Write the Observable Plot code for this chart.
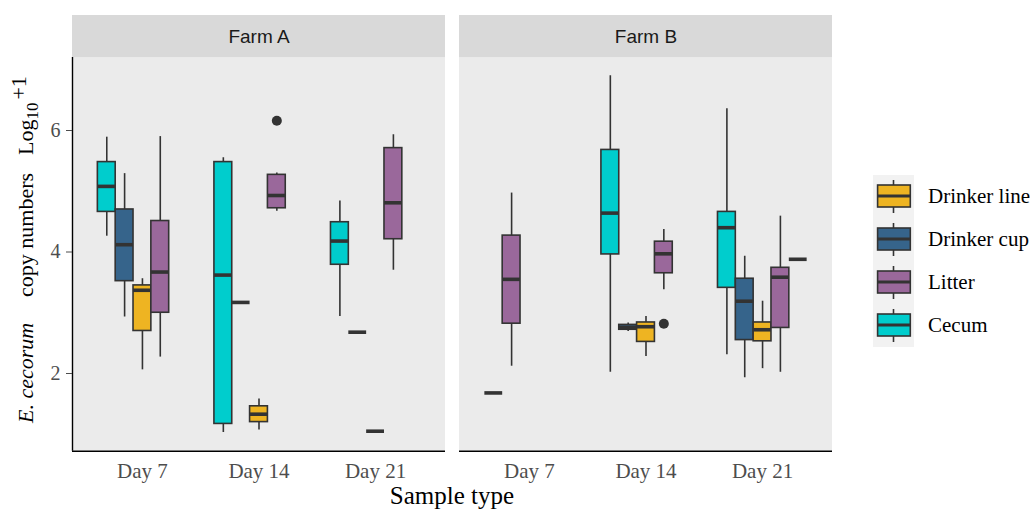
<!DOCTYPE html>
<html><head><meta charset="utf-8">
<script src="https://cdn.jsdelivr.net/npm/d3@7"></script>
<script src="https://cdn.jsdelivr.net/npm/@observablehq/plot@0.6"></script>
<style>
body{margin:0;background:#fff;}
#wrap{position:relative;width:1034px;height:512px;overflow:hidden;}
#wrap svg{position:absolute;left:0;top:0;}
#legend{position:absolute;left:873px;top:175px;font-family:'Liberation Serif','Times New Roman',serif;font-size:21px;color:#000;}
</style></head><body><div id="wrap"></div>
<script>
const farms = ["Farm A", "Farm B"];
const days = ["Day 7", "Day 14", "Day 21"];
const types = ["Drinker line", "Drinker cup", "Litter", "Cecum"];
const typeColors = ["#EEB422", "#36648B", "#9A689B", "#00CDCD"];

// [day, sample type, lower whisker, Q1, median, Q3, upper whisker] in dodge order
const farmABoxes = [
  ["Day 7", "Cecum", 4.26, 4.66, 5.08, 5.48, 5.89],
  ["Day 7", "Drinker cup", 2.93, 3.52, 4.12, 4.70, 5.29],
  ["Day 7", "Drinker line", 2.06, 2.70, 3.37, 3.45, 3.56],
  ["Day 7", "Litter", 2.27, 3.00, 3.67, 4.51, 5.90],
  ["Day 14", "Cecum", 1.03, 1.17, 3.62, 5.48, 5.55],
  ["Day 14", "Drinker cup", 3.17, 3.17, 3.17, 3.17, 3.17],
  ["Day 14", "Drinker line", 1.07, 1.20, 1.33, 1.46, 1.58],
  ["Day 14", "Litter", 4.67, 4.72, 4.93, 5.27, 5.30],
  ["Day 21", "Cecum", 2.94, 3.79, 4.18, 4.49, 4.84],
  ["Day 21", "Drinker cup", 2.68, 2.68, 2.68, 2.68, 2.68],
  ["Day 21", "Drinker line", 1.05, 1.05, 1.05, 1.05, 1.05],
  ["Day 21", "Litter", 3.70, 4.21, 4.81, 5.71, 5.93]
];
const farmBBoxes = [
  ["Day 7", "Drinker line", 1.68, 1.68, 1.68, 1.68, 1.68],
  ["Day 7", "Litter", 2.12, 2.82, 3.55, 4.27, 4.97],
  ["Day 14", "Cecum", 2.02, 3.96, 4.64, 5.68, 6.90],
  ["Day 14", "Drinker cup", 2.69, 2.72, 2.76, 2.80, 2.83],
  ["Day 14", "Drinker line", 2.28, 2.52, 2.77, 2.84, 2.94],
  ["Day 14", "Litter", 3.38, 3.65, 3.97, 4.17, 4.37],
  ["Day 21", "Cecum", 2.31, 3.41, 4.40, 4.66, 6.36],
  ["Day 21", "Drinker cup", 1.93, 2.55, 3.19, 3.56, 3.93],
  ["Day 21", "Drinker line", 2.08, 2.53, 2.72, 2.84, 3.19],
  ["Day 21", "Litter", 2.02, 2.75, 3.585, 3.74, 4.59],
  ["Day 21", "Drinker cup", 3.88, 3.88, 3.88, 3.88, 3.88]
];
// [farm, day, sample type, value]
const outlierValues = [
  ["Farm A", "Day 14", "Litter", 6.16],
  ["Farm B", "Day 14", "Litter", 2.82]
];

const yTicks = [2, 4, 6];
const yLo = 0.721, panelTop = 7.2, yHi = 7.893;
const dodgeWidth = 0.765, nSlots = 5;

function buildBoxes(farm, rows) {
  const counter = {};
  return rows.map(([day, type, lo, q1, med, q3, hi]) => {
    const k = counter[day] = (counter[day] ?? -1) + 1;
    const c = days.indexOf(day) + 1 + dodgeWidth * ((k + 0.5) / nSlots - 0.5);
    const hw = dodgeWidth / nSlots / 2;
    return {farm, day, type, lo, q1, med, q3, hi, x: c, x1: c - hw, x2: c + hw};
  });
}
const boxes = [...buildBoxes("Farm A", farmABoxes), ...buildBoxes("Farm B", farmBBoxes)];
const outliers = outlierValues.map(([farm, day, type, value]) => {
  const b = boxes.find(d => d.farm === farm && d.day === day && d.type === type);
  return {farm, day, type, value, x: b.x};
});

const plot = Plot.plot({
  width: 1034, height: 512,
  marginLeft: 72, marginRight: 202, marginTop: 15, marginBottom: 61.3,
  style: {fontFamily: "'Liberation Serif', 'Times New Roman', serif", fontSize: "20px", background: "transparent", overflow: "visible"},
  fx: {domain: farms, paddingInner: 0.037, paddingOuter: 0, axis: null, label: null},
  x: {domain: [0.4, 3.6], label: null},
  y: {domain: [yLo, yHi], label: null},
  color: {domain: types, range: typeColors},
  marks: [
    Plot.rect(farms, {fx: d => d, y1: yLo, y2: panelTop, fill: "#EBEBEB"}),
    Plot.rect(farms, {fx: d => d, y1: panelTop, y2: yHi, fill: "#D9D9D9"}),
    Plot.text(farms, {fx: d => d, y: (panelTop + yHi) / 2, text: d => d, frameAnchor: "middle",
      fontFamily: "'Liberation Sans', Arial, sans-serif", fontSize: 19, fill: "#1A1A1A"}),
    Plot.ruleX(boxes.filter(d => d.hi > d.lo), {fx: "farm", x: "x", y1: "lo", y2: "hi", stroke: "#333333", strokeWidth: 1.6}),
    Plot.rect(boxes, {fx: "farm", x1: "x1", x2: "x2", y1: "q1", y2: "q3", fill: "type", stroke: "#333333", strokeWidth: 1.6}),
    Plot.ruleY(boxes, {fx: "farm", x1: "x1", x2: "x2", y: "med", stroke: "#333333", strokeWidth: 3.6}),
    Plot.dot(outliers, {fx: "farm", x: "x", y: "value", r: 5, fill: "#333333", stroke: "none"}),
    Plot.ruleY(farms, {fx: d => d, y: yLo, stroke: "#000", strokeWidth: 1.4}),
    Plot.ruleX(["Farm A"], {fx: d => d, x: 0.4, y1: yLo, y2: panelTop, stroke: "#000", strokeWidth: 1.4}),
    Plot.axisY({ticks: yTicks, tickSize: 6, tickPadding: 6, color: "#4D4D4D", fontSize: 20, label: null}),
    Plot.axisX({ticks: [1, 2, 3], tickFormat: d => days[d - 1], tickSize: 0, tickPadding: 12, color: "#4D4D4D", fontSize: 21, label: null})
  ]
});

const wrap = d3.select("#wrap");
wrap.node().appendChild(plot);
const svg = d3.select(plot);

// x-axis title
svg.append("text").attr("x", 452).attr("y", 504).attr("text-anchor", "middle")
  .attr("font-family", "'Liberation Serif', 'Times New Roman', serif").attr("font-size", 25).attr("fill", "#000")
  .text("Sample type");

// y-axis title
const yt = svg.append("text").attr("transform", "translate(33,423) rotate(-90)").attr("text-anchor", "start")
  .attr("font-family", "'Liberation Serif', 'Times New Roman', serif").attr("font-size", 22).attr("fill", "#000");
yt.append("tspan").attr("x", 0).attr("font-style", "italic").text("E. cecorum");
yt.append("tspan").attr("x", 126).text("copy numbers");
yt.append("tspan").attr("x", 268).text("Log");
yt.append("tspan").attr("font-size", 17).attr("dy", 5).text("10");
yt.append("tspan").attr("font-size", 22).attr("dx", 3).attr("dy", -12).text("+1");

// legend
const legend = wrap.append("div").attr("id", "legend");
types.forEach((t, i) => {
  const row = legend.append("div").style("display", "flex").style("align-items", "center").style("height", "43px");
  const s = row.append("svg").attr("width", 41).attr("height", 43).style("background", "#F2F2F2").style("position", "static");
  s.append("line").attr("x1", 20.5).attr("x2", 20.5).attr("y1", 5).attr("y2", 38).attr("stroke", "#333").attr("stroke-width", 1.6);
  s.append("rect").attr("x", 4.6).attr("y", 10).attr("width", 32.7).attr("height", 22).attr("fill", typeColors[i]).attr("stroke", "#333").attr("stroke-width", 1.6);
  s.append("line").attr("x1", 4.6).attr("x2", 37.3).attr("y1", 21).attr("y2", 21).attr("stroke", "#333").attr("stroke-width", 3.2);
  row.append("span").text(t).style("margin-left", "14px");
});
</script>
</body></html>
